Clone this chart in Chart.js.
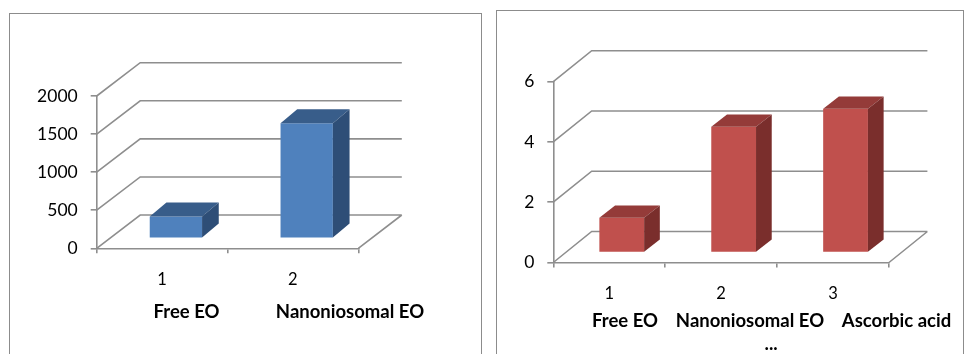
<!DOCTYPE html>
<html>
<head>
<meta charset="utf-8">
<title>Free vs nanoniosomal EO</title>
<script src="https://cdn.jsdelivr.net/npm/chart.js@4.4.1/dist/chart.umd.min.js"></script>
<style>
  html, body { margin: 0; padding: 0; background: #fff; }
  body { width: 966px; height: 354px; position: relative; overflow: hidden; }
  .panel { position: absolute; border: 1px solid #8c8c8c; box-sizing: border-box; background: #fff; }
  #panelA { left: 9px; top: 13px; width: 473px; height: 360px; }
  #panelB { left: 496px; top: 10px; width: 468px; height: 360px; }
  .holder { position: absolute; top: 0; width: 483px; height: 354px; }
  #holderA { left: 0; }
  #holderB { left: 483px; }
</style>
</head>
<body>
<div class="panel" id="panelA"></div>
<div class="panel" id="panelB"></div>
<div class="holder" id="holderA"><canvas id="chartA" width="483" height="354"></canvas></div>
<div class="holder" id="holderB"><canvas id="chartB" width="483" height="354"></canvas></div>
<script>
// ---- data: left chart ----
const freeCategories = ['1', '2'];
const freeNames = ['Free EO', 'Nanoniosomal EO'];
const freeValues = [285, 1510];
const freeTicks = [0, 500, 1000, 1500, 2000];

// ---- data: right chart ----
const antiCategories = ['1', '2', '3'];
const antiNames = ['Free EO', 'Nanoniosomal EO', 'Ascorbic acid'];
const antiValues = [1.15, 4.17, 4.77];
const antiTicks = [0, 2, 4, 6];

Chart.defaults.font.family = 'Lato, "Open Sans", "DejaVu Sans", sans-serif';
Chart.defaults.color = '#000';
Chart.defaults.animation = false;

const GRID = '#8e8e8e';

// Draws the oblique back wall / floor, pushes the bars into depth and
// adds their top and side faces, then writes the name row under the axis.
const depth3d = {
  id: 'depth3d',
  beforeDatasetsDraw(chart, args, o) {
    const { ctx, chartArea: a, scales: { y } } = chart;
    const [wx, wy] = o.wall;
    ctx.save();
    ctx.strokeStyle = GRID;
    ctx.lineWidth = 1.6;
    ctx.beginPath();
    y.ticks.forEach(t => {
      const py = y.getPixelForValue(t.value);
      ctx.moveTo(a.left, py);
      ctx.lineTo(a.left + wx, py + wy);
      ctx.lineTo(a.right + wx, py + wy);
    });
    ctx.moveTo(a.right, a.bottom);
    ctx.lineTo(a.right + wx, a.bottom + wy);
    ctx.stroke();
    ctx.restore();
    ctx.save();
    ctx.translate(o.barShift[0], o.barShift[1]);
  },
  afterDatasetsDraw(chart, args, o) {
    const { ctx } = chart;
    const [dx, dy] = o.barDepth;
    chart.getDatasetMeta(0).data.forEach(bar => {
      const { x, y, base, width } = bar.getProps(['x', 'y', 'base', 'width'], true);
      const l = x - width / 2, r = x + width / 2;
      ctx.fillStyle = o.topColor;
      ctx.beginPath();
      ctx.moveTo(l, y); ctx.lineTo(r, y); ctx.lineTo(r + dx, y + dy); ctx.lineTo(l + dx, y + dy);
      ctx.closePath(); ctx.fill();
      ctx.fillStyle = o.sideColor;
      ctx.beginPath();
      ctx.moveTo(r, y); ctx.lineTo(r + dx, y + dy); ctx.lineTo(r + dx, base + dy); ctx.lineTo(r, base);
      ctx.closePath(); ctx.fill();
    });
    ctx.restore();
  },
  afterDraw(chart, args, o) {
    const { ctx, chartArea: a, scales: { x } } = chart;
    ctx.save();
    ctx.font = 'bold 18.5px Lato, "Open Sans", sans-serif';
    ctx.fillStyle = '#000';
    ctx.textAlign = 'center';
    ctx.textBaseline = 'middle';
    o.names.forEach((n, i) => {
      ctx.fillText(n, x.getPixelForValue(i) + o.nameShift[i], a.bottom + o.nameDrop);
    });
    (o.extra || []).forEach(e => {
      ctx.fillText(e.text, x.getPixelForValue(e.index) + e.dx, a.bottom + e.dy);
    });
    ctx.restore();
  }
};

function makeChart(canvasId, cats, values, ticks, max, colors, geo) {
  return new Chart(document.getElementById(canvasId), {
    type: 'bar',
    data: {
      labels: cats,
      datasets: [{
        data: values,
        backgroundColor: colors.front,
        borderWidth: 0,
        barPercentage: 0.4,
        categoryPercentage: 1,
        clip: false
      }]
    },
    options: {
      responsive: false,
      animation: false,
      events: [],
      layout: { padding: geo.padding },
      plugins: {
        legend: { display: false },
        tooltip: { enabled: false },
        depth3d: {
          wall: geo.wall,
          barShift: geo.barShift,
          barDepth: geo.barDepth,
          topColor: colors.top,
          sideColor: colors.side,
          names: geo.names,
          nameShift: geo.nameShift,
          nameDrop: geo.nameDrop,
          extra: geo.extra
        }
      },
      scales: {
        x: {
          type: 'category',
          offset: true,
          afterFit: s => { s.height = 40; s.paddingLeft = 0; s.paddingRight = 0; },
          border: { display: true, color: GRID, width: 1.6 },
          grid: { offset: true, drawOnChartArea: false, drawTicks: true, tickLength: 5, color: GRID, lineWidth: 1.6 },
          ticks: { padding: 16, font: { size: 16.5 }, maxRotation: 0 }
        },
        y: {
          min: 0,
          max: max,
          afterBuildTicks: s => { s.ticks = ticks.map(v => ({ value: v })); },
          afterFit: s => { s.width = geo.axisWidth; s.paddingTop = 0; s.paddingBottom = 0; },
          border: { display: true, color: GRID, width: 1.6 },
          grid: { drawOnChartArea: false, drawTicks: true, tickLength: 6, color: GRID, lineWidth: 1.6 },
          ticks: { padding: 13, font: { size: 17.5 }, callback: v => String(v) }
        }
      }
    },
    plugins: [depth3d]
  });
}

makeChart('chartA', freeCategories, freeValues, freeTicks, 2000,
  { front: '#4F81BD', top: '#385D8A', side: '#2E4E77' },
  {
    axisWidth: 80,
    padding: { left: 16.7, top: 96, right: 124.7, bottom: 65.7 },
    wall: [43.5, -33.3],
    barShift: [13.8, -10],
    barDepth: [16.7, -14],
    names: freeNames,
    nameShift: [24.4, 57.1],
    nameDrop: 64
  });

makeChart('chartB', antiCategories, antiValues, antiTicks, 6,
  { front: '#C0504D', top: '#943B39', side: '#7A2E2C' },
  {
    axisWidth: 50,
    padding: { left: 20.3, top: 81.7, right: 77, bottom: 51.5 },
    wall: [38.4, -31],
    barShift: [12.5, -10],
    barDepth: [15.7, -12.3],
    names: antiNames,
    nameShift: [15.75, 28.85, 63.45],
    nameDrop: 58.5,
    extra: [{ text: '...', index: 1, dx: 50, dy: 82 }]
  });
</script>
</body>
</html>
